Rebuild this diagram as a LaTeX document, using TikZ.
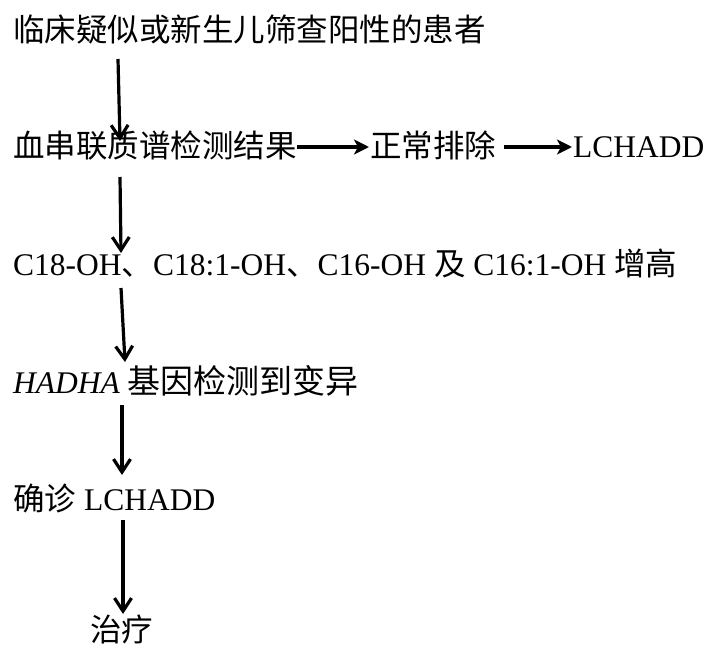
\documentclass[tikz,border=0pt]{standalone}
\usepackage{fontspec}
\setmainfont{Liberation Serif}
\newfontfamily\cjk{Noto Sans CJK SC}
\usetikzlibrary{arrows.meta}
\begin{document}
\begin{tikzpicture}[x=1pt,y=-1pt,
  txt/.style={anchor=base west,inner sep=0pt,font=\fontsize{31.5}{36}\selectfont},
  varrow/.style={line width=3.2pt,-{Straight Barb[length=13pt,width=17pt,line width=3.2pt]}},
  harrow/.style={line width=3.2pt,-{Stealth[length=15pt,width=15pt,inset=4pt]}}]
\useasboundingbox (0,0) rectangle (707,648);
\node[txt] (l1) at (13,41) {\cjk 临床疑似或新生儿筛查阳性的患者};
\node[txt] (l2a) at (13,157) {\cjk 血串联质谱检测结果};
\node[txt] (l2b) at (370,157) {\cjk 正常排除};
\node[txt] (l2c) at (573,157) {LCHADD};
\node[txt] (l3) at (13,275) {C18-OH{\cjk 、}C18:1-OH{\cjk 、}C16-OH {\cjk 及} C16:1-OH {\cjk 增高}};
\node[txt] (l4) at (13,393) {\textit{HADHA} {\fontsize{33}{38}\selectfont\cjk 基因检测到变异}};
\node[txt] (l5) at (13,510) {{\cjk 确诊} LCHADD};
\node[txt] (l6) at (90,641) {\cjk 治疗};
\coordinate (a1s) at (118,59);
\coordinate (a1e) at (120,141);
\coordinate (a2s) at (120,177);
\coordinate (a2e) at (121,253);
\coordinate (a3s) at (121,288);
\coordinate (a3e) at (125,362);
\coordinate (a4s) at (122,405);
\coordinate (a4e) at (122,475);
\coordinate (a5s) at (123,520);
\coordinate (a5e) at (123,614);
\draw[varrow] (a1s) -- (a1e);
\draw[varrow] (a2s) -- (a2e);
\draw[varrow] (a3s) -- (a3e);
\draw[varrow] (a4s) -- (a4e);
\draw[varrow] (a5s) -- (a5e);
\draw[harrow] ([yshift=10pt]l2a.base east) -- ([yshift=10pt,xshift=-1pt]l2b.base west);
\draw[harrow] ([yshift=10pt,xshift=8pt]l2b.base east) -- ([yshift=10pt,xshift=-1pt]l2c.base west);
\end{tikzpicture}
\end{document}
